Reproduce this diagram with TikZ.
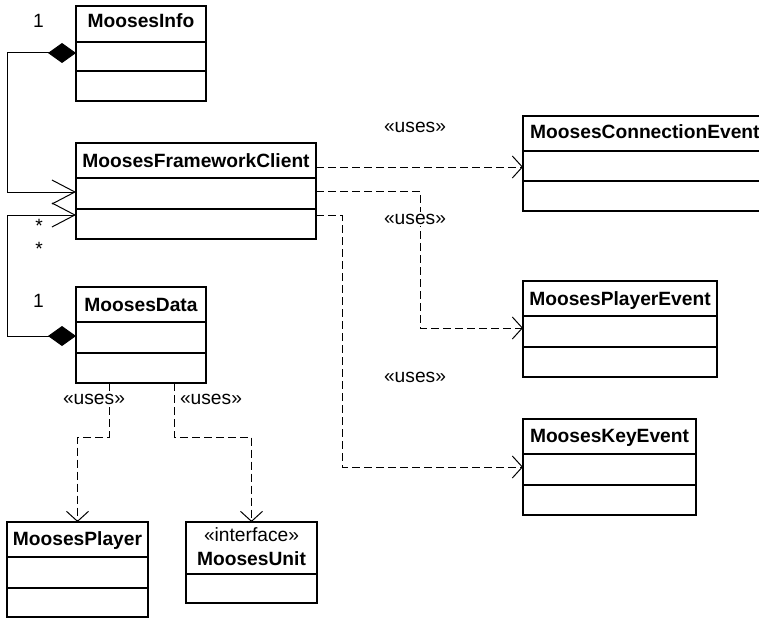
\documentclass[tikz,border=0pt]{standalone}
\usepackage{fontspec}
\setmainfont{Liberation Sans}
\usetikzlibrary{arrows.meta,calc}

\tikzset{
  box/.style={draw, line width=2pt, inner sep=0pt, outer sep=0pt, anchor=north west},
  sepline/.style={line width=2pt},
  title/.style={font=\fontsize{19.2}{23}\selectfont\bfseries, anchor=base, inner sep=0pt},
  lbl/.style={font=\fontsize{19.2}{23}\selectfont, anchor=base, inner sep=0pt},
  uses/.style={lbl, fill=white, inner sep=1.5pt},
  link/.style={line width=1pt, line join=miter},
  comp/.style={link, {Diamond[length=28pt,width=20pt]}-{Straight Barb[length=23pt,width=24pt]}},
  dep/.style={link, dash pattern=on 8pt off 4pt, -{Straight Barb[length=10pt,width=22pt]}},
}

\begin{document}
\begin{tikzpicture}[x=1pt, y=-1pt]
\useasboundingbox (0,0) rectangle (759,618);
\clip (0,0) rectangle (759,618);

% ---------- classes ----------
% MoosesInfo
\node[box, minimum width=130pt, minimum height=95pt] (info) at (76,6) {};
\draw[sepline] (76,42) -- (206,42) (76,71) -- (206,71);
\node[title] (info-t) at (141,28) {MoosesInfo};

% MoosesFrameworkClient
\node[box, minimum width=240pt, minimum height=96pt] (mfc) at (76,143) {};
\draw[sepline] (76,178) -- (316,178) (76,209) -- (316,209);
\node[title] (mfc-t) at (196,167) {MoosesFrameworkClient};

% MoosesData
\node[box, minimum width=130pt, minimum height=96pt] (data) at (76,287) {};
\draw[sepline] (76,322) -- (206,322) (76,353) -- (206,353);
\node[title] (data-t) at (141,311) {MoosesData};

% MoosesPlayer
\node[box, minimum width=141pt, minimum height=95pt] (player) at (7,522) {};
\draw[sepline] (7,557) -- (148,557) (7,588) -- (148,588);
\node[title] (player-t) at (77.5,545) {MoosesPlayer};

% MoosesUnit (interface)
\node[box, minimum width=131pt, minimum height=81pt] (unit) at (186,522) {};
\draw[sepline] (186,574) -- (317,574);
\node[lbl] (unit-s) at (251.5,541) {«interface»};
\node[title] (unit-t) at (251.5,565) {MoosesUnit};

% MoosesConnectionEvent
\node[box, minimum width=243pt, minimum height=95pt] (conn) at (523,116) {};
\draw[sepline] (523,151) -- (766,151) (523,181) -- (766,181);
\node[title, anchor=base west] (conn-t) at (530,138) {MoosesConnectionEvent};

% MoosesPlayerEvent
\node[box, minimum width=194pt, minimum height=96pt] (pev) at (523,281) {};
\draw[sepline] (523,316) -- (717,316) (523,347) -- (717,347);
\node[title] (pev-t) at (620,305) {MoosesPlayerEvent};

% MoosesKeyEvent
\node[box, minimum width=173pt, minimum height=96pt] (kev) at (523,419) {};
\draw[sepline] (523,454) -- (696,454) (523,485) -- (696,485);
\node[title] (kev-t) at (609.5,442) {MoosesKeyEvent};

% ---------- ports ----------
\coordinate (info-w)  at ($(info.north west)+(0,47)$);
\coordinate (data-w)  at ($(data.north west)+(0,49)$);
\coordinate (mfc-w1)  at ($(mfc.north west)+(0,49)$);
\coordinate (mfc-w2)  at ($(mfc.north west)+(0,72)$);
\coordinate (mfc-e1)  at ($(mfc.north east)+(0,24)$);
\coordinate (mfc-e2)  at ($(mfc.north east)+(0,48)$);
\coordinate (mfc-e3)  at ($(mfc.north east)+(0,72)$);
\coordinate (conn-w)  at ($(conn.north west)+(0,51)$);
\coordinate (pev-w)   at ($(pev.north west)+(0,47)$);
\coordinate (kev-w)   at ($(kev.north west)+(0,48)$);
\coordinate (data-s1) at ($(data.south west)+(33,0)$);
\coordinate (data-s2) at ($(data.south west)+(98,0)$);

% ---------- compositions ----------
\draw[comp] (info-w) -- ++(-69,0) |- (mfc-w1);
\draw[comp] (data-w) -- ++(-69,0) |- (mfc-w2);
\node[lbl] (m1) at (38.5,28) {1};
\node[lbl] (m2) at (39,232) {*};
\node[lbl] (m3) at (39,255) {*};
\node[lbl] (m4) at (38.5,307) {1};

% ---------- dependencies ----------
\draw[dep] (mfc-e1) -- (conn-w);
\draw[dep] (mfc-e2) -- ++(104,0) |- (pev-w);
\draw[dep] (mfc-e3) -- ++(26,0) |- (kev-w);
\draw[dep] (data-s1) -- ++(0,54) -| (player.north);
\draw[dep] (data-s2) -- ++(0,54) -| (unit.north);

% stereotype labels sit on top of the dashed lines
\node[uses] (u1) at (415,132) {«uses»};
\node[uses] (u2) at (415,224) {«uses»};
\node[uses] (u3) at (415,382) {«uses»};
\node[uses] (u4) at (94,404) {«uses»};
\node[uses] (u5) at (211,404) {«uses»};
\end{tikzpicture}
\end{document}
